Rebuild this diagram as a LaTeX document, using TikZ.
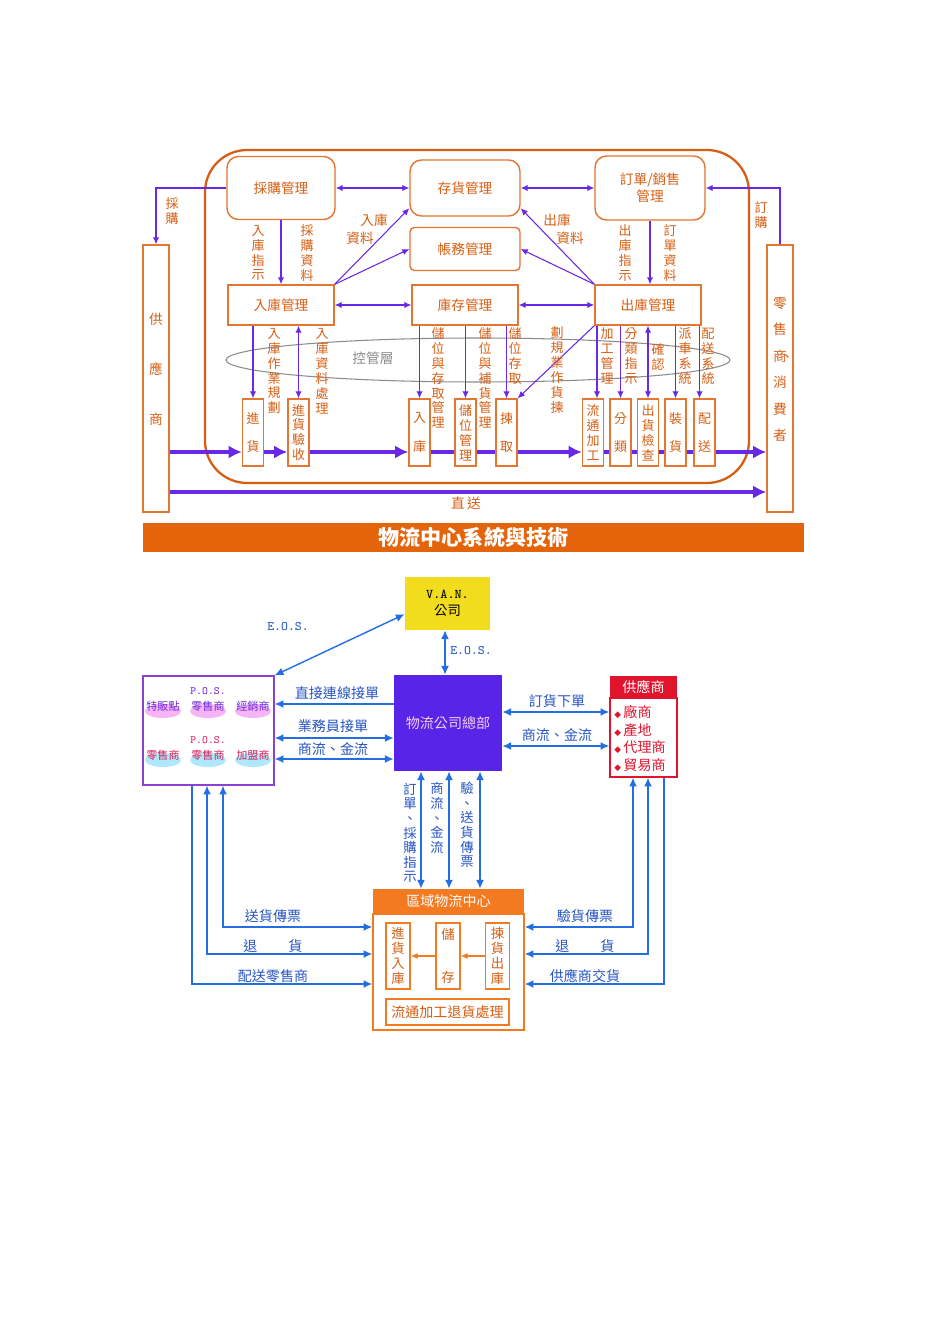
\documentclass[tikz,border=0pt]{standalone}
\usepackage{fontspec}
\setmainfont{Noto Sans CJK TC}
\newfontfamily\symfont{DejaVu Sans}
\usetikzlibrary{arrows.meta}

\definecolor{lcorange}{RGB}{226,118,50}
\definecolor{lcotext}{RGB}{215,95,20}
\definecolor{lcpurple}{RGB}{105,40,230}
\definecolor{lcgrey}{RGB}{140,140,140}
\definecolor{lcbanner}{RGB}{228,100,12}
\definecolor{lcblue}{RGB}{35,110,225}
\definecolor{lcbtext}{RGB}{40,85,195}
\definecolor{lcyellow}{RGB}{242,220,30}
\definecolor{lchq}{RGB}{88,36,232}
\definecolor{lchqtext}{RGB}{245,205,245}
\definecolor{lcred}{RGB}{225,20,45}
\definecolor{lcrose}{RGB}{220,30,90}
\definecolor{lcframe}{RGB}{140,65,210}
\definecolor{lccenter}{RGB}{243,122,32}
\definecolor{lcpink}{RGB}{245,180,245}
\definecolor{lccyan}{RGB}{175,232,250}
\definecolor{lcviolet}{RGB}{110,40,220}

\begin{document}
\begin{tikzpicture}[x=0.02cm, y=-0.02cm, >={Latex[length=4pt,width=3.6pt]},
    mgr/.style={draw=lcorange, line width=0.8pt, rounded corners=6.5pt, text=lcotext, align=center, inner sep=0pt, font=\fontsize{7.8}{9.6}\selectfont},
    sbox/.style={draw=lcorange, line width=0.8pt, text=lcotext, align=center, inner sep=0pt, minimum width=0.42cm, minimum height=1.34cm, font=\fontsize{7.4}{8.5}\selectfont},
    tall/.style={draw=lcorange, line width=0.8pt, minimum width=0.52cm, minimum height=5.34cm},
    vlab/.style={text=lcotext, align=center, inner sep=0pt, font=\fontsize{7.4}{8.5}\selectfont},
    wide/.style={font=\fontsize{7.4}{16}\selectfont},
    hlab/.style={text=lcotext, inner sep=0pt, font=\fontsize{7.8}{9}\selectfont},
    link/.style={draw=lcpurple, line width=0.6pt},
    flow/.style={draw=lcpurple, line width=2.2pt},
    flowtip/.style={flow, -{Latex[length=7.5pt,width=7.5pt]}},
    barrow/.style={draw=lcblue, line width=0.8pt, >={Latex[length=5pt,width=4.5pt]}},
    blab/.style={text=lcbtext, inner sep=0pt, font=\fontsize{8}{9}\selectfont},
    bvlab/.style={text=lcbtext, align=center, inner sep=0pt, font=\fontsize{7.6}{8.3}\selectfont},
    eos/.style={text=lcbtext, inner sep=0pt, font=\ttfamily\fontsize{7.4}{9}\selectfont},
    orgn/.style={inner sep=0pt, font=\fontsize{6.3}{7}\selectfont},
    posmark/.style={inner sep=0pt, font=\ttfamily\fontsize{6.3}{6.5}\selectfont},
    cbox/.style={draw=lccenter, line width=0.8pt, text=lcotext, align=center, inner sep=0pt}]
    \fill[white] (0,0) rectangle (950,1344);
    \useasboundingbox (0,0) rectangle (950,1344);

    % control layer and frame
    \draw[lcgrey, line width=0.6pt] (478,360) ellipse (5.04cm and 0.44cm);
    \node[text=lcgrey, inner sep=0pt, font=\fontsize{7.8}{9}\selectfont] (ctl) at (373,358) {控管層};
    \draw[draw=lcotext, line width=1.3pt, rounded corners=24pt] (205,150) rectangle (749,483);

    % management boxes
    \node[mgr, minimum width=2.16cm, minimum height=1.26cm] (cg) at (281,188) {採購管理};
    \node[mgr, minimum width=2.2cm, minimum height=1.12cm] (ch) at (465,188) {存貨管理};
    \node[mgr, minimum width=2.2cm, minimum height=1.28cm] (dx) at (650,188) {訂單/銷售\\管理};
    \node[mgr, rounded corners=2.5pt, minimum width=2.2cm, minimum height=0.86cm] (zw) at (465,249) {帳務管理};
    \node[mgr, sharp corners, minimum width=2.12cm, minimum height=0.8cm] (rk) at (281,305) {入庫管理};
    \node[mgr, sharp corners, minimum width=2.12cm, minimum height=0.8cm] (kc) at (465,305) {庫存管理};
    \node[mgr, sharp corners, minimum width=2.12cm, minimum height=0.8cm] (ck) at (648,305) {出庫管理};

    % supplier and customer
    \node[tall] (gys) at (156,378.5) {};
    \node[tall] (lss) at (780,378.5) {};
    \node[vlab, font=\fontsize{7.8}{28.5}\selectfont] (gyst) at (156,369) {供\\應\\商};
    \node[vlab, font=\fontsize{7.8}{15.1}\selectfont] (lsst) at (780,369.5) {零\\售\\商\rlap{\hspace{-0.5em}、}\\消\\費\\者};

    % operation boxes
    \node[sbox, wide] (jh) at (253,432.5) {進\\貨};
    \node[sbox] (ys) at (298.5,432.5) {進\\貨\\驗\\收};
    \node[sbox, wide] (rku) at (419.5,432.5) {入\\庫};
    \node[sbox] (cw) at (465.5,432.5) {儲\\位\\管\\理};
    \node[sbox, wide] (jq) at (506.5,432.5) {揀\\取};
    \node[sbox] (lt) at (593,432.5) {流\\通\\加\\工};
    \node[sbox, wide] (fl) at (620.5,432.5) {分\\類};
    \node[sbox] (jc) at (648,432.5) {出\\貨\\檢\\查};
    \node[sbox, wide] (zh) at (675.5,432.5) {裝\\貨};
    \node[sbox, wide] (ps) at (704.5,432.5) {配\\送};

    % links between management boxes
    \draw[link, ->] (cg.west) -| (gys.north);
    \draw[link, ->] (lss.north) |- (dx.east);
    \draw[link, <->] (cg.east) -- (ch.west);
    \draw[link, <->] (ch.east) -- (dx.west);
    \draw[link, <->] (rk.east) -- (kc.west);
    \draw[link, <->] (kc.east) -- (ck.west);
    \draw[link, ->] (cg.south) -- (rk.north);
    \draw[link, ->] (dx.south) -- (dx.south |- ck.north);
    \draw[link, ->] (rk.north east) -- (ch.200);
    \draw[link, ->] (rk.north east) -- (zw.west);
    \draw[link, ->] (ck.north west) -- (ch.340);
    \draw[link, ->] (ck.north west) -- (zw.east);

    % links down to operations
    \draw[link, ->] (jh.north |- rk.south) -- (jh.north);
    \draw[link, <->] (ys.north |- rk.south) -- (ys.north);
    \draw[link, ->] (rku.north |- kc.south) -- (rku.north);
    \draw[link, ->] (cw.north |- kc.south) -- (cw.north);
    \draw[link, ->] (jq.north |- kc.south) -- (jq.north);
    \draw[link, ->] (ck.south west) -- (jq.north east);
    \draw[link, ->] ([xshift=0.08cm]lt.north |- ck.south) -- ([xshift=0.08cm]lt.north);
    \draw[link, ->] (fl.north |- ck.south) -- (fl.north);
    \draw[link, <->] (jc.north |- ck.south) -- (jc.north);
    \draw[link, ->] (zh.north |- ck.south) -- (zh.north);
    \draw[link, ->] ([xshift=-0.1cm]ps.north |- ck.south) -- ([xshift=-0.1cm]ps.north);

    % link labels
    \node[vlab] (l1) at (172,211) {採\\購};
    \node[vlab] (l2) at (761,215) {訂\\購};
    \node[vlab] (l3) at (258,253) {入\\庫\\指\\示};
    \node[vlab] (l4) at (307,253) {採\\購\\資\\料};
    \node[vlab] (l5) at (625,253) {出\\庫\\指\\示};
    \node[vlab] (l6) at (670,253) {訂\\單\\資\\料};
    \node[hlab] (l7) at (374,220) {入庫};
    \node[hlab] (l8) at (360,238) {資料};
    \node[hlab] (l9) at (557,220) {出庫};
    \node[hlab] (l10) at (570,238) {資料};
    \node[vlab] (l11) at (274,371) {入\\庫\\作\\業\\規\\劃};
    \node[vlab] (l12) at (322,371) {入\\庫\\資\\料\\處\\理};
    \node[vlab] (l13) at (438,378) {儲\\位\\與\\存\\取\\管\\理};
    \node[vlab] (l14) at (485,378) {儲\\位\\與\\補\\貨\\管\\理};
    \node[vlab] (l15) at (515,356) {儲\\位\\存\\取};
    \node[vlab] (l16) at (557,370) {劃\\規\\業\\作\\貨\\揀};
    \node[vlab] (l17) at (607,356) {加\\工\\管\\理};
    \node[vlab] (l18) at (631,356) {分\\類\\指\\示};
    \node[vlab] (l19) at (658,357) {確\\認};
    \node[vlab] (l20) at (685,356) {派\\車\\系\\統};
    \node[vlab] (l21) at (708,356) {配\\送\\系\\統};

    % material flow
    \coordinate (fy) at (0,452);
    \coordinate (dy) at (0,492);
    \draw[flowtip] (gys.east |- fy) -- (jh.west |- fy);
    \draw[flowtip] (jh.east |- fy) -- (ys.west |- fy);
    \draw[flowtip] (ys.east |- fy) -- (rku.west |- fy);
    \draw[flow] (rku.east |- fy) -- (cw.west |- fy);
    \draw[flow] (cw.east |- fy) -- (jq.west |- fy);
    \draw[flowtip] (jq.east |- fy) -- (lt.west |- fy);
    \draw[flow] (lt.east |- fy) -- (fl.west |- fy);
    \draw[flow] (fl.east |- fy) -- (jc.west |- fy);
    \draw[flow] (jc.east |- fy) -- (zh.west |- fy);
    \draw[flow] (zh.east |- fy) -- (ps.west |- fy);
    \draw[flowtip] (ps.east |- fy) -- (lss.west |- fy);
    \draw[flowtip] (gys.east |- dy) -- (lss.west |- dy);
    \node[hlab] (zs) at (466,503) {直\,送};

    % title bar
    \node[fill=lcbanner, text=white, minimum width=13.22cm, minimum height=0.58cm, inner sep=0pt, font=\bfseries\fontsize{12}{14}\selectfont] (banner) at (473.5,537.5) {物流中心系統與技術};

    % lower chart boxes
    \node[fill=lcyellow, align=center, inner sep=0pt, minimum width=1.7cm, minimum height=1.06cm, font=\fontsize{7.6}{10}\selectfont] (van) at (447.5,603.5) {{\ttfamily V.A.N.}\\公司};
    \node[fill=lchq, text=lchqtext, inner sep=0pt, minimum width=2.16cm, minimum height=1.92cm, font=\fontsize{8}{9}\selectfont] (hq) at (448,723) {物流公司總部};
    \node[draw=lcframe, line width=0.8pt, minimum width=2.62cm, minimum height=2.18cm] (kh) at (208.5,730.5) {};
    \node[fill=lcred, text=white, inner sep=0pt, minimum width=1.34cm, minimum height=0.44cm, font=\fontsize{8}{9}\selectfont] (gyh) at (643.5,687) {供應商};
    \node[draw=lcred, line width=0.8pt, minimum width=1.34cm, minimum height=1.58cm] (gyb) at (643.5,737.5) {};
    \node[text=lcred, align=left, anchor=west, inner sep=0pt, font=\fontsize{8}{10.1}\selectfont] (gyl) at (614,738.5)
        {{\symfont\fontsize{5}{5}\selectfont ◆}\,廠商\\{\symfont\fontsize{5}{5}\selectfont ◆}\,產地\\{\symfont\fontsize{5}{5}\selectfont ◆}\,代理商\\{\symfont\fontsize{5}{5}\selectfont ◆}\,貿易商};
    \node[fill=lccenter, text=white, inner sep=0pt, minimum width=3.02cm, minimum height=0.5cm, font=\fontsize{8}{9}\selectfont] (rch) at (448.5,901.5) {區域物流中心};
    \node[cbox, minimum width=3.02cm, minimum height=2.32cm] (rcb) at (448.5,972) {};
    \node[cbox, minimum width=0.48cm, minimum height=1.32cm, font=\fontsize{7.6}{8.6}\selectfont] (jhrk) at (398,956) {進\\貨\\入\\庫};
    \node[cbox, minimum width=0.48cm, minimum height=1.32cm, font=\fontsize{7.6}{24.5}\selectfont] (cc) at (448,956) {儲\\存};
    \node[cbox, minimum width=0.48cm, minimum height=1.32cm, font=\fontsize{7.6}{8.6}\selectfont] (jhck) at (497.5,956) {揀\\貨\\出\\庫};
    \node[cbox, minimum width=2.46cm, minimum height=0.52cm, font=\fontsize{8}{9}\selectfont] (lj) at (447.5,1012) {流通加工退貨處理};
    \draw[lccenter, line width=0.8pt, ->] (jhck.west) -- (cc.east);
    \draw[lccenter, line width=0.8pt, ->] (cc.west) -- (jhrk.east);

    % customers inside the left box
    \fill[lcpink] (163,711) ellipse (0.36cm and 0.14cm);
    \fill[lcpink] (208,711) ellipse (0.36cm and 0.14cm);
    \fill[lcpink] (253,711) ellipse (0.36cm and 0.14cm);
    \fill[lccyan] (163,760) ellipse (0.36cm and 0.14cm);
    \fill[lccyan] (208,760) ellipse (0.36cm and 0.14cm);
    \fill[lccyan] (253,760) ellipse (0.36cm and 0.14cm);
    \node[orgn, text=lcviolet] (k1) at (163,706) {特販點};
    \node[posmark, text=lcviolet] (p1) at (208,691) {P.O.S.};
    \node[orgn, text=lcviolet] (k2) at (208,706) {零售商};
    \node[orgn, text=lcviolet] (k3) at (253,706) {經銷商};
    \node[orgn, text=lcrose] (k4) at (163,755) {零售商};
    \node[posmark, text=lcrose] (p2) at (208,740) {P.O.S.};
    \node[orgn, text=lcrose] (k5) at (208,755) {零售商};
    \node[orgn, text=lcrose] (k6) at (253,755) {加盟商};

    % information links
    \coordinate (r1) at (0,704);
    \coordinate (r2) at (0,738);
    \coordinate (r3) at (0,759);
    \coordinate (s1) at (0,712);
    \coordinate (s2) at (0,746);
    \coordinate (v0) at (445,0);
    \coordinate (v1) at (421,0);
    \coordinate (v2) at (449,0);
    \coordinate (v3) at (480,0);
    \draw[barrow, <->] (van.194) -- (kh.north east);
    \draw[barrow, <->] (van.south -| v0) -- (hq.north -| v0);
    \draw[barrow, ->] (hq.west |- r1) -- (kh.east |- r1);
    \draw[barrow, <->] (hq.west |- r2) -- (kh.east |- r2);
    \draw[barrow, <->] (hq.west |- r3) -- (kh.east |- r3);
    \draw[barrow, <->] (hq.east |- s1) -- (gyb.west |- s1);
    \draw[barrow, <->] (hq.east |- s2) -- (gyb.west |- s2);
    \draw[barrow, <->] (hq.south -| v1) -- (rch.north -| v1);
    \draw[barrow, <->] (hq.south -| v2) -- (rch.north -| v2);
    \draw[barrow, <->] (hq.south -| v3) -- (rch.north -| v3);

    % delivery links
    \coordinate (b1) at (0,927);
    \coordinate (b2) at (0,954);
    \coordinate (b3) at (0,984);
    \coordinate (xl1) at (223,0);
    \coordinate (xl2) at (207,0);
    \coordinate (xl3) at (192,0);
    \coordinate (xr1) at (633,0);
    \coordinate (xr2) at (648,0);
    \coordinate (xr3) at (664,0);
    \draw[barrow, <->] (kh.south -| xl1) |- (rcb.west |- b1);
    \draw[barrow, <->] (kh.south -| xl2) |- (rcb.west |- b2);
    \draw[barrow, ->] (kh.south -| xl3) |- (rcb.west |- b3);
    \draw[barrow, <->] (gyb.south -| xr1) |- (rcb.east |- b1);
    \draw[barrow, <->] (gyb.south -| xr2) |- (rcb.east |- b2);
    \draw[barrow, ->] (gyb.south -| xr3) |- (rcb.east |- b3);

    % lower labels
    \node[eos] (e1) at (288,627) {E.O.S.};
    \node[eos] (e2) at (471,651) {E.O.S.};
    \node[blab] (t1) at (337,693) {直接連線接單};
    \node[blab] (t2) at (333,726) {業務員接單};
    \node[blab] (t3) at (333,749) {商流、金流};
    \node[blab] (t4) at (557,701) {訂貨下單};
    \node[blab] (t5) at (557,735) {商流、金流};
    \node[bvlab] (t6) at (410,833) {訂\\單\\、\\採\\購\\指\\示};
    \node[bvlab] (t7) at (437,818) {商\\流\\、\\金\\流};
    \node[bvlab] (t8) at (467,825) {驗\\、\\送\\貨\\傳\\票};
    \node[blab] (t9) at (273,916) {送貨傳票};
    \node[blab] (t10) at (273,946) {退\hspace{2.2em}貨};
    \node[blab] (t11) at (273,976) {配送零售商};
    \node[blab] (t12) at (585,916) {驗貨傳票};
    \node[blab] (t13) at (585,946) {退\hspace{2.2em}貨};
    \node[blab] (t14) at (585,976) {供應商交貨};
\end{tikzpicture}
\end{document}
